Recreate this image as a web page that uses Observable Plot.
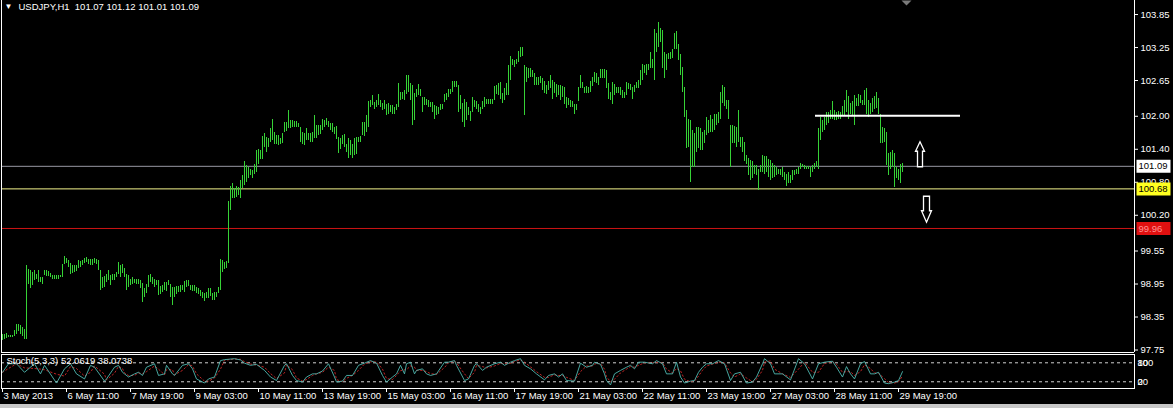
<!DOCTYPE html>
<html><head><meta charset="utf-8">
<script src="https://cdn.jsdelivr.net/npm/d3@7"></script>
<script src="https://cdn.jsdelivr.net/npm/@observablehq/plot@0.6"></script>
<style>
html,body{margin:0;padding:0;background:#000;}
#chart{position:relative;width:1173px;height:408px;background:#000;overflow:hidden;font-family:"Liberation Sans",Arial,sans-serif;}
#chart svg{display:block;overflow:visible;}
#tabbar{position:absolute;left:0;top:404px;width:1173px;height:4px;background:#c8c8c8;}
</style></head><body><div id="chart"></div>
<script>
// ---- data ----
const titleText = "USDJPY,H1  101.07 101.12 101.01 101.09";
const highs = [
98.03,98.04,98.05,98.01,98.01,98.01,98.10,98.22,98.22,98.19,
98.16,98.13,99.28,99.22,99.19,99.16,99.19,99.13,99.20,99.07,
99.06,99.20,99.19,99.17,99.14,99.10,99.10,99.10,99.10,99.10,
99.31,99.45,99.42,99.37,99.33,99.28,99.28,99.29,99.37,99.36,
99.37,99.42,99.43,99.40,99.39,99.40,99.42,99.40,99.37,99.19,
99.07,99.08,99.12,99.20,99.10,99.13,99.13,99.16,99.34,99.28,
99.31,99.23,99.12,99.10,99.04,99.06,99.04,99.04,99.04,99.01,
98.96,98.86,98.95,99.10,99.13,99.07,99.04,99.01,99.01,98.90,
98.92,98.98,98.98,99.02,98.94,98.89,98.89,98.90,98.90,98.92,
98.92,99.00,99.01,99.01,98.92,98.92,98.92,98.89,98.86,98.83,
98.80,98.77,98.80,98.86,98.86,98.77,98.80,98.80,98.89,99.39,
99.37,99.34,99.36,100.45,100.72,100.77,100.68,100.72,100.71,100.83,
100.92,101.17,101.10,101.07,101.04,101.01,101.12,101.37,101.39,101.37,
101.63,101.69,101.62,101.60,101.77,101.95,101.71,101.65,101.65,101.59,
101.69,101.89,101.89,102.11,101.93,101.93,101.91,101.91,101.86,101.80,
101.71,101.68,101.77,101.69,101.68,101.71,102.01,101.83,101.83,101.83,
101.95,101.93,101.96,101.90,101.86,101.86,101.80,101.81,101.62,101.59,
101.65,101.66,101.49,101.59,101.56,101.49,101.59,101.62,101.62,101.63,
101.89,101.89,102.01,102.27,102.29,102.37,102.25,102.28,102.40,102.28,
102.23,102.28,102.22,102.23,102.19,102.19,102.16,102.22,102.59,102.43,
102.43,102.46,102.74,102.74,102.59,102.56,102.42,102.49,102.57,102.48,
102.34,102.34,102.31,102.29,102.25,102.25,102.19,102.17,102.16,102.21,
102.22,102.40,102.42,102.48,102.49,102.63,102.63,102.63,102.56,102.38,
102.24,102.30,102.25,102.16,102.08,102.35,102.28,102.27,102.22,102.16,
102.27,102.35,102.31,102.31,102.30,102.31,102.55,102.56,102.60,102.62,
102.42,102.51,102.59,102.93,103.08,103.04,103.01,103.04,103.18,103.25,
103.25,102.92,102.89,102.86,102.86,102.83,102.77,102.71,102.71,102.72,
102.68,102.63,102.56,102.63,102.74,102.65,102.61,102.57,102.56,102.56,
102.55,102.53,102.35,102.33,102.28,102.27,102.22,102.22,102.53,102.74,
102.62,102.53,102.55,102.53,102.63,102.71,102.80,102.77,102.71,102.85,
102.85,102.85,102.83,102.59,102.44,102.62,102.57,102.53,102.53,102.53,
102.47,102.44,102.62,102.60,102.58,102.53,102.56,102.62,102.65,102.83,
102.95,102.93,102.95,102.95,103.16,103.04,103.58,103.50,103.71,103.60,
103.56,103.16,103.13,103.15,103.16,103.22,103.50,103.54,103.31,103.13,
102.89,102.53,102.10,101.95,101.92,101.74,101.68,101.80,101.80,101.77,
101.71,101.74,101.98,101.93,102.01,101.95,102.04,102.04,102.07,102.44,
102.56,102.53,102.29,102.29,101.83,101.83,101.81,101.80,102.10,101.62,
101.62,101.53,101.29,101.23,101.20,101.17,101.10,101.10,101.04,101.10,
101.29,101.26,101.27,101.21,101.20,101.14,101.10,101.07,101.04,101.04,
101.06,100.98,100.95,100.97,100.92,101.01,101.01,101.04,101.06,101.15,
101.13,101.10,101.09,101.09,101.06,101.10,101.15,101.17,101.77,101.97,
101.93,101.98,102.06,102.07,102.10,102.26,102.10,102.07,102.09,102.07,
102.17,102.29,102.47,102.36,102.23,102.26,102.38,102.32,102.40,102.38,
102.29,102.47,102.50,102.29,102.23,102.32,102.36,102.44,102.32,102.04,
101.80,101.77,101.71,101.32,101.35,101.37,101.32,101.07,101.04,101.13,
101.14];
const lows = [
97.93,97.95,97.96,97.97,97.97,97.97,98.00,98.04,98.09,98.04,
98.00,97.95,97.95,98.95,98.86,98.92,99.01,99.04,98.98,98.98,
98.95,99.10,99.08,99.08,99.06,99.04,99.04,99.04,99.04,99.06,
99.06,99.31,99.32,99.25,99.13,99.15,99.16,99.17,99.24,99.25,
99.28,99.32,99.34,99.30,99.28,99.28,99.32,99.31,99.19,98.83,
98.86,98.89,98.98,99.01,98.92,99.01,99.02,99.06,99.13,99.07,
99.14,99.07,98.83,98.89,98.92,98.95,98.96,98.95,98.95,98.86,
98.62,98.71,98.77,98.89,98.98,98.95,98.89,98.92,98.74,98.76,
98.80,98.83,98.82,98.92,98.71,98.56,98.71,98.76,98.80,98.80,
98.83,98.80,98.89,98.90,98.83,98.82,98.82,98.78,98.76,98.72,
98.68,98.64,98.68,98.68,98.72,98.65,98.65,98.70,98.77,98.83,
99.16,99.22,99.24,99.33,100.28,100.50,100.50,100.53,100.56,100.50,
100.68,100.74,100.80,100.86,100.92,100.86,100.95,100.98,101.13,101.22,
101.22,101.43,101.34,101.43,101.53,101.56,101.48,101.49,101.46,101.49,
101.51,101.71,101.72,101.77,101.77,101.80,101.80,101.80,101.79,101.53,
101.49,101.46,101.56,101.56,101.53,101.53,101.59,101.59,101.65,101.66,
101.74,101.80,101.83,101.80,101.74,101.71,101.66,101.57,101.33,101.40,
101.49,101.43,101.34,101.24,101.28,101.24,101.28,101.31,101.53,101.53,
101.65,101.63,101.71,101.80,102.16,102.19,102.13,102.16,102.19,102.16,
102.10,102.13,102.01,102.04,102.07,102.04,102.04,102.10,102.16,102.29,
102.31,102.29,102.40,102.43,102.29,101.83,101.92,102.34,102.37,102.36,
102.07,102.19,102.19,102.16,102.16,102.07,101.95,102.01,102.04,102.10,
102.13,102.25,102.28,102.34,102.40,102.43,102.53,102.53,102.07,102.13,
101.89,101.80,101.92,102.01,101.90,102.07,102.16,102.13,102.07,102.04,
102.12,102.16,102.22,102.21,102.21,102.22,102.28,102.39,102.38,102.31,
102.24,102.28,102.38,102.38,102.65,102.92,102.89,102.95,102.98,103.07,
103.09,102.01,102.62,102.68,102.71,102.71,102.56,102.56,102.56,102.59,
102.47,102.41,102.39,102.47,102.50,102.31,102.41,102.35,102.38,102.28,
102.35,102.21,102.15,102.19,102.16,102.16,102.04,102.10,102.27,102.50,
102.51,102.42,102.42,102.42,102.44,102.55,102.62,102.59,102.56,102.68,
102.68,102.68,102.50,102.31,102.28,102.22,102.38,102.41,102.41,102.38,
102.33,102.33,102.38,102.48,102.47,102.31,102.44,102.50,102.51,102.56,
102.65,102.77,102.74,102.83,102.86,102.86,102.65,103.16,103.25,103.35,
102.86,102.68,102.83,103.04,103.04,103.05,103.22,103.22,103.01,102.74,
102.44,101.98,101.41,101.44,100.80,101.07,101.07,101.35,101.41,101.38,
101.38,101.50,101.65,101.68,101.71,101.71,101.74,101.83,101.86,101.95,
102.23,102.17,102.13,101.95,101.07,101.50,101.50,101.44,101.53,101.44,
101.35,101.17,101.13,100.92,100.83,100.86,100.95,100.92,100.65,100.98,
100.98,100.95,100.98,100.89,100.83,100.86,100.89,100.92,100.95,100.92,
100.89,100.83,100.72,100.77,100.77,100.83,100.92,100.95,100.95,101.04,
101.06,101.04,101.04,101.03,100.88,100.98,101.04,101.06,101.04,101.56,
101.71,101.75,101.83,101.87,101.95,101.95,101.93,101.92,101.95,101.95,
102.01,102.01,102.07,101.95,102.03,102.00,101.83,102.17,102.17,102.24,
102.20,102.20,102.04,101.98,102.04,102.07,102.13,102.15,102.04,101.50,
101.50,101.53,101.10,100.92,101.04,101.07,100.71,100.86,100.83,100.77,
100.98];
const priceTicks = [97.75, 98.35, 98.95, 99.55, 100.20, 100.80, 101.40, 102.00, 102.65, 103.25, 103.85];
const timeTickBars = [0, 32, 64, 96, 128, 160, 192, 224, 256, 288, 320, 352, 384, 416, 448];
const timeTickLabels = ["3 May 2013", "6 May 11:00", "7 May 19:00", "9 May 03:00", "10 May 11:00",
  "13 May 19:00", "15 May 03:00", "16 May 11:00", "17 May 19:00", "21 May 03:00", "22 May 11:00",
  "23 May 19:00", "27 May 03:00", "28 May 11:00", "29 May 19:00"];
const bidPrice = 101.09;
const supportPrice = 100.68;
const stopPrice = 99.96;
const trendStartBar = 406.5, trendEndBar = 479, trendPrice = 102.01;
const upArrowBar = 458.75, upArrowPrice = 101.31;
const downArrowBar = 462, downArrowPrice = 100.31;
const shiftMarkerBar = 452;
const stochLabel = "Stoch(5,3,3) 52.0619 38.0738";
const stochLevels = [80, 20];
const stochAxisTexts = ["100", "80", "20", "0"];
const stochAxisAt = [80, 80, 20, 20];
// Stochastic %K / %D, read at the turning points of the lines (bar index, value)
const stochBars = [
0,3,7,11,16,19,21,27,31,34, 37,41,44,46,51,52,56,58,60,61,
63,66,68,70,72,76,78,81,82,85, 86,90,93,95,97,101,103,106,109,111,
116,119,121,124,127,131,134,137,141,142, 145,147,150,152,155,157,160,163,166,167,
170,172,175,178,181,184,187,190,192,195, 197,
199,201,202,204,206,207,210,212,214,217, 221,223,226,227,231,233,236,237,240,242,
246,249,251,254,256,259,261,264,267,271, 273,276,278,280,282,286,289,292,295,296,
299,301,302,304,306,309,312,314,316,318, 321,325,327,330,332,335,337,339,341,344,
346,348,350,352,355,358,361,364,366,369, 372,375,377,380,381,384,386,390,394,
398,401,405,408,411,415,417,420,422,424, 426,429,431,434,436,438,441,443,446,448,
450];
const stochK = [
50,77,77,50,77,45,72,16,61,77, 45,29,72,66,22,29,66,72,50,45,
35,45,50,40,66,77,40,45,72,45, 40,72,77,61,29,16,29,35,87,90,
93,89,79,72,75,56,35,24,72,77, 40,24,19,35,45,45,54,77,35,19,
22,40,40,72,79,87,79,40,19,35, 45,
72,45,77,82,45,56,61,45,40,45, 82,82,87,72,24,29,72,77,56,66,
77,82,72,82,87,93,72,61,45,26, 40,45,35,45,24,22,79,66,72,82,
75,45,24,10,45,56,66,72,61,82, 82,77,87,77,45,45,82,35,16,22,
24,50,66,77,77,87,77,24,45,50, 16,19,35,77,93,77,45,45,26,
93,77,29,77,82,85,66,35,68,45, 29,77,84,45,45,50,16,14,19,24,
52.06];
const stochD = [
50,62,77,64,62,60,58,44,38,68, 62,38,50,70,44,26,47,69,62,48,
40,40,48,45,52,70,60,42,58,58, 42,56,74,70,45,22,22,32,60,88,
92,91,84,76,73,66,46,30,48,74, 58,32,22,27,40,45,50,66,56,27,
20,31,40,56,76,83,83,60,30,27, 40,
55,58,58,70,66,56,56,52,46,43, 65,80,85,80,45,30,50,72,68,64,
70,78,77,78,84,89,82,67,52,34, 34,42,40,40,34,24,52,70,70,76,
78,60,36,20,28,48,60,68,66,72, 80,80,82,80,60,48,62,55,28,20,
22,38,56,70,76,82,80,48,35,45, 32,20,28,56,82,86,60,45,34,
60,82,50,50,78,84,75,50,52,52, 40,52,74,62,48,47,30,17,16,20,
38.07];

// ---- drawing ----
const bars = highs.map((h, i) => ({i, high: h, low: lows[i]}));
const stochRows = stochBars.map((b, j) => ({i: b, k: stochK[j], d: stochD[j]}));
const xDomain = [-0.5, 566];
const yDomain = [97.705, 104.105];
const font = {background: "#000", color: "#fff", fontFamily: "'Liberation Sans', Arial, sans-serif", fontSize: "9.5px"};

const arrowUp = {draw(ctx, size) {
  const s = Math.sqrt(size / Math.PI) / 12;
  ctx.moveTo(0, -12.5 * s); ctx.lineTo(4.5 * s, -3 * s); ctx.lineTo(2.5 * s, -3 * s);
  ctx.lineTo(2.5 * s, 12.5 * s); ctx.lineTo(-2.5 * s, 12.5 * s); ctx.lineTo(-2.5 * s, -3 * s);
  ctx.lineTo(-4.5 * s, -3 * s); ctx.closePath();
}};
const arrowDown = {draw(ctx, size) {
  const s = Math.sqrt(size / Math.PI) / 12;
  ctx.moveTo(0, 13 * s); ctx.lineTo(5 * s, 1.5 * s); ctx.lineTo(3 * s, 1.5 * s);
  ctx.lineTo(3 * s, -13 * s); ctx.lineTo(-3 * s, -13 * s); ctx.lineTo(-3 * s, 1.5 * s);
  ctx.lineTo(-5 * s, 1.5 * s); ctx.closePath();
}};
const labelBox = {draw(ctx, size) {
  const s = Math.sqrt(size / Math.PI) / 12;
  ctx.rect(-17 * s, -6.5 * s, 34 * s, 13 * s);
}};
const shiftTriangle = {draw(ctx, size) {
  const s = Math.sqrt(size / Math.PI) / 12;
  ctx.moveTo(-5 * s, 0); ctx.lineTo(5 * s, 0); ctx.lineTo(0, 5 * s); ctx.closePath();
}};

const main = Plot.plot({
  width: 1173, height: 353,
  marginLeft: 1, marginRight: 39, marginTop: 0, marginBottom: 1,
  style: font,
  x: {domain: xDomain, axis: null},
  y: {domain: yDomain, axis: "right", ticks: priceTicks, tickFormat: d => d.toFixed(2),
      tickSize: 3, tickPadding: 3, label: null},
  marks: [
    Plot.ruleY([bidPrice], {stroke: "#9898a4"}),
    Plot.ruleY([supportPrice], {stroke: "#f4f48c"}),
    Plot.ruleY([stopPrice], {stroke: "#cc1414"}),
    Plot.ruleX(bars, {x: "i", y1: "low", y2: "high", stroke: "#36d236", shapeRendering: "crispEdges"}),
    Plot.ruleY([trendPrice], {x1: trendStartBar, x2: trendEndBar, stroke: "#fff", strokeWidth: 2}),
    Plot.dot([upArrowPrice], {x: upArrowBar, y: d => d, r: 12, symbol: arrowUp, fill: "#000", stroke: "#fff", strokeWidth: 1.3}),
    Plot.dot([downArrowPrice], {x: downArrowBar, y: d => d, r: 12, symbol: arrowDown, fill: "#000", stroke: "#fff", strokeWidth: 1.3}),
    Plot.dot([shiftMarkerBar], {x: d => d, y: () => yDomain[1], r: 12, symbol: shiftTriangle, fill: "#7a7a7a"}),
    Plot.ruleX([xDomain[0]], {stroke: "#fff"}),
    Plot.ruleX([xDomain[1]], {stroke: "#fff"}),
    Plot.ruleY([yDomain[0]], {stroke: "#fff"}),
    Plot.dot([bidPrice], {x: () => xDomain[1], y: d => d, r: 12, symbol: labelBox, fill: "#fff", dx: 19}),
    Plot.text([bidPrice], {x: () => xDomain[1], y: d => d, text: d => d.toFixed(2), fill: "#000", dx: 4, textAnchor: "start"}),
    Plot.dot([supportPrice], {x: () => xDomain[1], y: d => d, r: 12, symbol: labelBox, fill: "#ffff20", dx: 19}),
    Plot.text([supportPrice], {x: () => xDomain[1], y: d => d, text: d => d.toFixed(2), fill: "#000", dx: 4, textAnchor: "start"}),
    Plot.dot([stopPrice], {x: () => xDomain[1], y: d => d, r: 12, symbol: labelBox, fill: "#e01010", dx: 19}),
    Plot.text([stopPrice], {x: () => xDomain[1], y: d => d, text: d => d.toFixed(2), fill: "#ff9090", dx: 4, textAnchor: "start"}),
    Plot.text(["▼"], {frameAnchor: "top-left", dx: 3, dy: 3, lineAnchor: "top", fontSize: 8, fill: "#fff"}),
    Plot.text([titleText], {frameAnchor: "top-left", dx: 17, dy: 3, lineAnchor: "top", fill: "#fff"})
  ]
});

const stoch = Plot.plot({
  width: 1173, height: 55,
  marginLeft: 1, marginRight: 39, marginTop: 1, marginBottom: 20,
  style: font,
  x: {domain: xDomain, axis: null},
  y: {domain: [-1.3, 106.3], axis: null},
  marks: [
    Plot.ruleY(stochLevels, {stroke: "#d0d0d0", strokeDasharray: "3,3"}),
    Plot.line(stochRows, {x: "i", y: "d", stroke: "#d02828", strokeWidth: 0.9, strokeDasharray: "1.5,2.5"}),
    Plot.line(stochRows, {x: "i", y: "k", stroke: "#4fb8b0", strokeWidth: 0.9}),
    Plot.frame({stroke: "#fff"}),
    Plot.text([stochLabel], {frameAnchor: "top-left", dx: 5, dy: 3, lineAnchor: "top", fill: "#fff"}),
    Plot.text(stochAxisTexts, {y: (d, i) => stochAxisAt[i], x: () => xDomain[1], text: d => d, dx: 3, textAnchor: "start", fill: "#fff"}),
    Plot.ruleX(timeTickBars, {x: d => d, stroke: "#fff", insetTop: 34, insetBottom: -4}),
    Plot.text(timeTickBars, {x: d => d, text: (d, i) => timeTickLabels[i], frameAnchor: "bottom", lineAnchor: "top",
      dy: 4, dx: 1, textAnchor: "start", fill: "#fff"})
  ]
});

const root = document.getElementById("chart");
root.appendChild(main);
root.appendChild(stoch);
const tab = document.createElement("div"); tab.id = "tabbar"; root.appendChild(tab);
</script></body></html>
